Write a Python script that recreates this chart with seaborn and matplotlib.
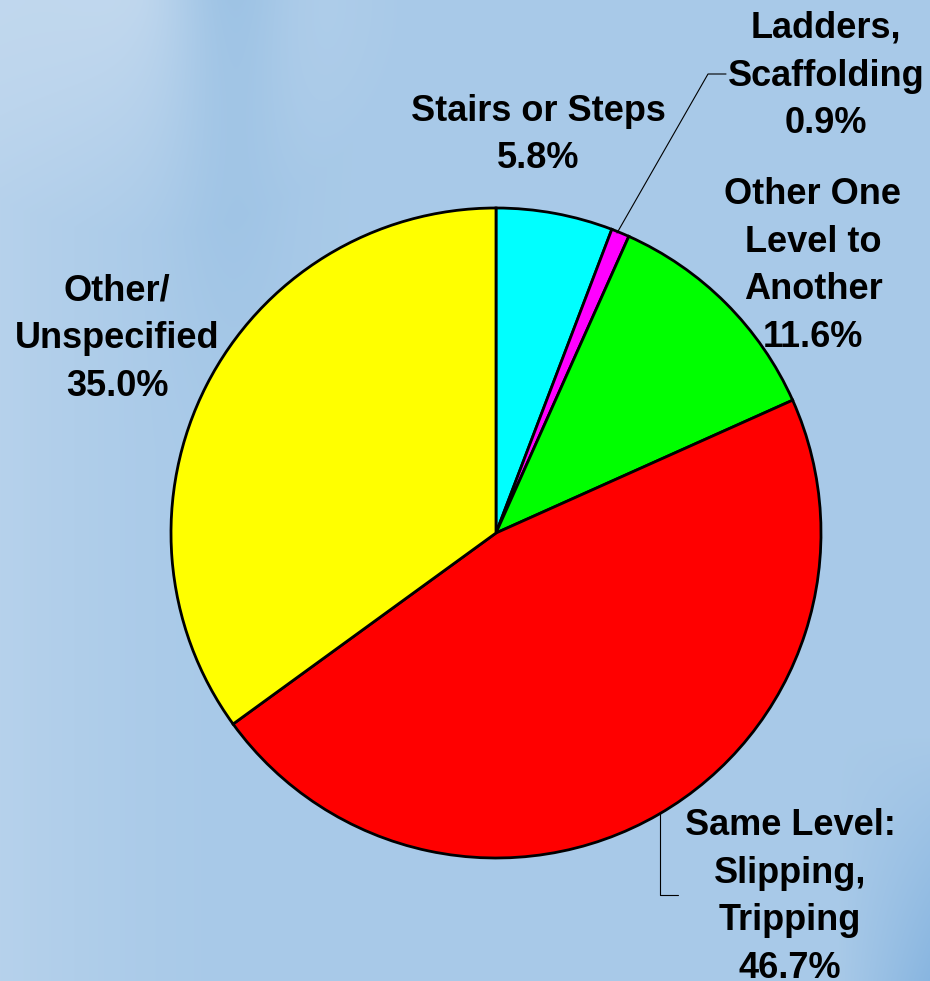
import numpy as np
import matplotlib
matplotlib.use("Agg")
import matplotlib.pyplot as plt
import seaborn as sns

# Data (clockwise from 12 o'clock)
categories = ["Stairs or Steps", "Ladders,\nScaffolding", "Other One\nLevel to\nAnother",
              "Same Level:\nSlipping,\nTripping", "Other/\nUnspecified"]
shares = [5.8, 0.9, 11.6, 46.7, 35.0]
slice_colors = ["#00ffff", "#ff00ff", "#00ff00", "#ff0000", "#ffff00"]

sns.set_theme(style="white")
plt.rcParams['font.family'] = ['Liberation Sans', 'DejaVu Sans']

W, H = 930, 981
fig = plt.figure(figsize=(W / 100, H / 100), dpi=100)

# Blue slide-style background on its own axes (row 0 = top)
bg = fig.add_axes([0, 0, 1, 1], zorder=0)
yy, xx = np.mgrid[0:H, 0:W]
xn, yn = xx / W, yy / H
light = np.array([0.78, 0.86, 0.94])
mid = np.array([0.66, 0.79, 0.91])
dark = np.array([0.50, 0.69, 0.87])
band = np.array([0.56, 0.73, 0.88])
t = np.clip(1.0 - xn * 4.0, 0, 1) ** 1.5 * 0.45
t += np.clip(1.0 - np.hypot(xn - 0.15, yn * 1.2) * 3.5, 0, 1) * 0.7
t = np.clip(t, 0, 1)[..., None]
img = mid * (1 - t) + light * t
b = (np.exp(-((xn - 0.25) ** 2) / 0.004) * np.clip(1 - yn * 2.2, 0, 1))[..., None]
img = img * (1 - 0.6 * b) + band * 0.6 * b
d = (np.clip((xn - 0.9) * 8, 0, 1) * np.clip((yn - 0.75) * 4, 0, 1))[..., None]
img = img * (1 - d) + dark * d
bg.imshow(img, aspect='auto', interpolation='bilinear')
bg.axis('off')

ax = fig.add_axes([0, 0, 1, 1], zorder=1)
ax.patch.set_alpha(0)
cx, cy, r = 496, H - 533, 325
ax.pie(shares, colors=slice_colors, startangle=90, counterclock=False,
       center=(cx, cy), radius=r, frame=True,
       wedgeprops=dict(edgecolor='black', linewidth=2.0))
ax.set_xlim(0, W)
ax.set_ylim(0, H)
ax.axis('off')

# label positions in pixel coords (x, y from top)
label_pos = [(538, 135), (826, 76), (813, 266), (790, 897), (117, 339)]
for name, val, (lx, ly) in zip(categories, shares, label_pos):
    ax.text(lx, H - ly, f"{name}\n{val:.1f}%", ha='center', va='center',
            fontsize=26, fontweight='bold', linespacing=1.47, color='black', zorder=5)

# leader lines
ax.plot([617, 708, 726], [H - 233, H - 74, H - 74], color='black', lw=0.8, zorder=4)
ax.plot([660, 660, 678], [H - 812, H - 895, H - 895], color='black', lw=0.8, zorder=4)

fig.savefig("out.png", dpi=100)
